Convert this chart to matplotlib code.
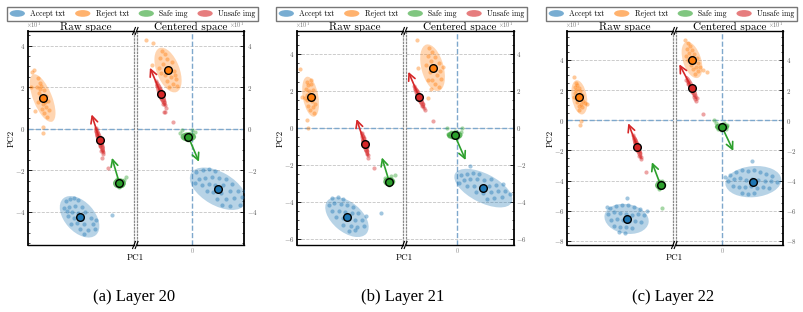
import matplotlib
matplotlib.use('Agg')
import matplotlib.pyplot as plt
import matplotlib.patches as mpatches
from matplotlib.legend_handler import HandlerPatch
from matplotlib.ticker import MultipleLocator, FixedLocator
from matplotlib.lines import Line2D

plt.rcParams['font.family'] = ['cmr10', 'DejaVu Serif']
plt.rcParams['mathtext.fontset'] = 'cm'
plt.rcParams['axes.formatter.use_mathtext'] = True

# ---------------- data (values in units of 10, as labelled) ----------------
CLASSES = ['Accept txt', 'Reject txt', 'Safe img', 'Unsafe img']
COLORS = ['#1f77b4', '#ff7f0e', '#2ca02c', '#d62728']
CAPTIONS = ['(a) Layer 20', '(b) Layer 21', '(c) Layer 22']

# ---- Layer 20 ----
raw20_accept = [(1.8,-3.5),(2.0,-3.4),(2.2,-3.35),(2.4,-3.45),(1.7,-3.8),(1.95,-3.75),(2.25,-3.7),(2.6,-3.75),
                (2.1,-4.0),(2.4,-4.05),(2.75,-4.0),(1.9,-4.2),(2.2,-4.3),(2.6,-4.35),(3.0,-4.3),(2.35,-4.55),
                (2.7,-4.6),(3.1,-4.6),(2.5,-4.85),(2.9,-4.9),(3.2,-4.85),(2.7,-5.05),(2.05,-4.6),(1.85,-3.95),
                (3.25,-4.4),(4.05,-4.16)]
raw20_reject = [(0.45,2.45),(0.55,2.2),(0.40,2.0),(0.62,2.05),(0.75,1.85),(0.50,1.7),(0.85,1.6),(0.60,1.45),
                (0.95,1.35),(0.70,1.2),(0.45,1.3),(0.85,1.05),(1.0,0.9),(0.75,0.75),(0.65,0.95),(0.90,0.55),
                (0.55,1.9),(0.80,1.3),(0.16,2.75),(0.27,2.85),(0.32,0.85),(0.69,0.10),(0.69,-0.19),(0.12,2.0)]
raw20_safe = [(4.25,-2.55),(4.30,-2.7),(4.45,-2.55),(4.50,-2.7),(4.35,-2.8),(4.42,-2.5),(4.55,-2.6),
              (4.28,-2.62),(4.40,-2.75),(4.60,-2.45),(4.71,-2.3),(4.25,-2.4)]
raw20_unsafe = [(3.25,0.05),(3.28,-0.1),(3.33,-0.2),(3.30,-0.3),(3.38,-0.35),(3.42,-0.45),(3.37,-0.6),
                (3.47,-0.65),(3.50,-0.75),(3.45,-0.85),(3.55,-0.9),(3.57,-1.0),(3.60,-1.1),(3.52,-1.05),
                (3.62,-1.2),(3.55,-1.43),(3.86,-1.91)]
cen20_accept = [(0.2,-2.1),(0.5,-2.0),(0.8,-1.95),(1.1,-2.05),(0.3,-2.4),(0.6,-2.35),(0.95,-2.3),(1.3,-2.35),
                (1.6,-2.4),(0.45,-2.7),(0.8,-2.65),(1.1,-2.7),(1.5,-2.7),(1.9,-2.65),(0.7,-3.0),(1.0,-3.05),
                (1.4,-3.1),(1.8,-3.0),(2.2,-3.0),(1.2,-3.4),(1.6,-3.4),(2.0,-3.35),(2.4,-3.3),(1.8,-3.7),
                (2.3,-3.65),(1.45,-3.65),(2.55,-3.0),(0.15,-2.6)]
cen20_reject = [(-1.45,3.75),(-1.3,3.6),(-1.55,3.4),(-1.2,3.35),(-1.0,3.2),(-1.4,3.1),(-1.6,2.95),(-1.15,2.9),
                (-0.9,2.8),(-1.3,2.6),(-1.05,2.5),(-0.8,2.4),(-1.2,2.3),(-0.95,2.15),(-0.75,2.05),(-1.1,2.0),
                (-1.5,2.7),(-0.85,2.6),(-2.23,4.27),(-1.88,4.12),(-1.95,3.05)]
cen20_safe = [(-0.35,-0.3),(-0.25,-0.45),(-0.1,-0.35),(-0.05,-0.45),(-0.3,-0.5),(-0.15,-0.25),(-0.4,-0.4),
              (0.0,-0.3),(-0.2,-0.55),(-0.5,-0.05),(0.0,-0.08),(-0.6,-0.2),(0.15,-0.15)]
cen20_unsafe = [(-1.75,2.3),(-1.7,2.1),(-1.62,1.95),(-1.55,1.85),(-1.6,1.75),(-1.45,1.6),(-1.5,1.5),(-1.4,1.4),
                (-1.35,1.3),(-1.42,1.2),(-1.3,1.15),(-1.28,1.0),(-1.38,0.8),(-1.30,0.8),(-0.93,0.34)]
means20_raw = [(2.47,-4.24),(0.69,1.48),(4.39,-2.63),(3.44,-0.54)]
means20_cen = [(1.24,-2.89),(-1.17,2.83),(-0.19,-0.39),(-1.51,1.69)]
ell20_raw = [(2.36,1.44,-48),(2.45,0.9,112),(0.62,0.5,0),(1.35,0.3,-72)]
ell20_cen = [(3.0,1.6,-30),(2.27,1.1,111),(0.75,0.45,0),(1.3,0.32,-70)]
tips20_raw = [(4.03,-1.40),(3.05,0.69)]   # safe, unsafe
tips20_cen = [(0.32,-1.59),(-2.04,2.94)]

# ---- Layer 21 ----
raw21_accept = [(1.9,-3.8),(2.2,-3.75),(2.5,-3.85),(1.7,-4.2),(2.0,-4.1),(2.35,-4.15),(2.7,-4.2),(3.0,-4.3),
                (1.9,-4.5),(2.25,-4.5),(2.6,-4.55),(2.95,-4.6),(3.3,-4.6),(2.1,-4.85),(2.45,-4.9),(2.8,-4.95),
                (3.15,-5.0),(3.5,-5.0),(2.5,-5.25),(2.9,-5.3),(3.25,-5.35),(3.6,-5.3),(2.8,-5.6),(3.1,-5.55),
                (3.7,-4.8),(4.51,-4.6)]
raw21_reject = [(0.5,2.5),(0.6,2.3),(0.75,2.35),(0.45,2.1),(0.65,2.0),(0.85,2.05),(0.5,1.8),(0.7,1.75),
                (0.9,1.65),(0.55,1.5),(0.8,1.45),(0.95,1.3),(0.6,1.2),(0.85,1.1),(0.7,0.95),(0.9,0.8),
                (0.75,2.6),(0.4,1.6),(0.14,3.18),(0.51,0.42),(0.6,0.0),(0.25,1.65)]
raw21_safe = [(4.85,-2.85),(4.9,-3.0),(5.05,-2.85),(5.1,-3.0),(4.95,-3.1),(5.0,-2.75),(4.82,-2.95),
              (5.15,-2.9),(5.29,-2.56),(5.05,-2.6),(4.75,-2.7)]
raw21_unsafe = [(3.5,-0.3),(3.55,-0.45),(3.6,-0.55),(3.58,-0.7),(3.67,-0.75),(3.7,-0.9),(3.63,-1.0),
                (3.75,-1.05),(3.72,-1.2),(3.8,-1.25),(3.78,-1.4),(3.85,-1.5),(3.83,-1.65),(4.17,-2.17)]
cen21_accept = [(0.2,-2.55),(0.5,-2.5),(0.85,-2.45),(1.2,-2.5),(0.35,-2.85),(0.7,-2.8),(1.05,-2.8),(1.45,-2.85),
                (1.8,-2.8),(0.5,-3.15),(0.9,-3.15),(1.3,-3.2),(1.7,-3.15),(2.1,-3.1),(2.45,-3.05),(1.0,-3.5),
                (1.4,-3.55),(1.8,-3.5),(2.2,-3.45),(2.6,-3.4),(1.6,-3.85),(2.0,-3.8),(2.4,-3.75),(2.85,-3.6),
                (0.69,-2.08),(0.1,-3.0)]
cen21_reject = [(-1.55,4.3),(-1.35,4.1),(-1.6,3.9),(-1.2,3.85),(-1.45,3.6),(-1.0,3.5),(-1.7,3.4),(-1.25,3.3),
                (-0.95,3.1),(-1.5,3.0),(-1.1,2.85),(-1.35,2.6),(-0.9,2.65),(-1.6,2.6),(-1.2,2.35),(-1.0,2.2),
                (-1.4,2.1),(-0.8,3.3),(-2.17,4.75),(-2.11,3.21),(-1.57,1.62)]
cen21_safe = [(-0.5,-0.35),(-0.35,-0.25),(-0.2,-0.5),(-0.05,-0.3),(0.1,-0.45),(0.2,-0.25),(-0.3,-0.5),
              (-0.45,-0.45),(0.0,-0.55),(-0.55,0.0),(0.25,0.0),(-0.1,-0.2)]
cen21_unsafe = [(-2.35,2.25),(-2.28,2.1),(-2.2,2.0),(-2.15,1.85),(-2.05,1.8),(-2.0,1.55),(-2.1,1.5),
                (-1.95,1.4),(-1.85,1.3),(-1.9,1.2),(-1.82,1.05),(-1.75,0.95),(-1.3,0.36)]
means21_raw = [(2.69,-4.84),(0.72,1.68),(4.98,-2.92),(3.65,-0.87)]
means21_cen = [(1.41,-3.27),(-1.34,3.25),(-0.14,-0.40),(-2.06,1.66)]
ell21_raw = [(2.76,1.6,-40),(2.2,0.84,100),(0.65,0.5,0),(1.4,0.3,-75)]
ell21_cen = [(3.44,1.56,-27),(2.6,1.2,105),(0.85,0.45,0),(1.4,0.32,-66)]
tips21_raw = [(4.58,-1.61),(3.21,0.47)]
tips21_cen = [(0.45,-1.75),(-2.65,3.03)]

# ---- Layer 22 ----
raw22_accept = [(2.8,-5.8),(3.2,-5.7),(3.6,-5.6),(4.0,-5.65),(4.4,-5.75),(4.8,-5.9),(2.7,-6.2),(3.1,-6.1),
                (3.5,-6.15),(3.9,-6.2),(4.3,-6.25),(4.7,-6.2),(5.1,-6.3),(2.9,-6.6),(3.3,-6.55),(3.7,-6.6),
                (4.1,-6.65),(4.5,-6.7),(4.9,-6.75),(3.1,-7.0),(3.5,-7.05),(3.9,-7.1),(4.3,-7.15),(3.4,-7.4),
                (3.8,-7.5),(5.3,-6.0),(3.93,-5.17),(2.61,-5.72)]
raw22_reject = [(0.55,2.5),(0.65,2.35),(0.5,2.2),(0.75,2.15),(0.6,2.0),(0.85,1.95),(0.5,1.8),(0.7,1.7),
                (0.95,1.65),(0.6,1.45),(0.85,1.4),(1.05,1.3),(0.65,1.2),(0.9,1.1),(0.75,0.95),(1.0,0.85),
                (0.8,0.7),(1.2,1.15),(1.3,1.05),(0.44,2.85),(0.88,-0.04),(0.84,-0.31),(0.45,1.55)]
raw22_safe = [(6.05,-4.2),(6.1,-4.4),(6.25,-4.2),(6.3,-4.4),(6.15,-4.5),(6.2,-4.1),(6.35,-4.3),(6.0,-4.35),
              (6.1,-4.0),(6.3,-4.0),(6.05,-4.55),(6.25,-5.79)]
raw22_unsafe = [(4.35,-1.0),(4.42,-1.15),(4.5,-1.3),(4.48,-1.45),(4.58,-1.5),(4.62,-1.65),(4.7,-1.8),
                (4.65,-1.95),(4.75,-2.05),(4.82,-2.2),(4.78,-2.35),(4.88,-2.45),(4.92,-2.6),(5.22,-3.45)]
cen22_accept = [(0.5,-3.6),(0.9,-3.4),(1.3,-3.3),(1.7,-3.35),(2.1,-3.3),(2.5,-3.4),(2.9,-3.55),(3.3,-3.7),
                (0.4,-4.0),(0.8,-3.9),(1.2,-3.85),(1.6,-3.95),(2.0,-3.9),(2.4,-3.95),(2.8,-4.0),(3.2,-4.05),
                (3.6,-4.1),(0.7,-4.35),(1.1,-4.4),(1.5,-4.45),(1.9,-4.35),(2.3,-4.5),(2.7,-4.45),(3.1,-4.5),
                (1.3,-4.8),(1.7,-4.9),(2.1,-4.85),(1.99,-2.7),(0.2,-3.75)]
cen22_reject = [(-2.3,5.1),(-2.15,4.9),(-2.35,4.7),(-2.0,4.65),(-2.2,4.45),(-1.85,4.4),(-2.4,4.25),(-2.05,4.2),
                (-1.7,4.15),(-2.25,4.0),(-1.9,3.85),(-1.6,3.8),(-2.1,3.65),(-1.75,3.55),(-1.45,3.5),(-1.95,3.4),
                (-1.6,3.25),(-1.8,3.1),(-1.3,3.35),(-1.04,3.23),(-2.47,5.33)]
cen22_safe = [(-0.35,-0.35),(-0.2,-0.5),(0.0,-0.3),(0.15,-0.45),(0.25,-0.55),(-0.3,-0.6),(-0.1,-0.65),
              (0.1,-0.2),(0.3,-0.3),(-0.55,0.05),(-0.45,-0.2)]
cen22_unsafe = [(-2.4,2.7),(-2.3,2.55),(-2.25,2.4),(-2.15,2.3),(-2.1,2.1),(-1.95,2.0),(-2.0,1.85),(-1.9,1.7),
                (-1.85,1.55),(-1.8,1.4),(-1.75,1.25),(-1.7,1.5),(-1.3,0.4)]
means22_raw = [(3.93,-6.54),(0.80,1.52),(6.19,-4.31),(4.64,-1.75)]
means22_cen = [(2.06,-4.07),(-2.01,4.00),(-0.02,-0.44),(-2.03,2.17)]
ell22_raw = [(2.96,1.96,-10),(2.3,1.0,100),(0.75,0.6,0),(1.7,0.38,-71)]
ell22_cen = [(3.72,2.06,5),(2.5,1.2,108),(0.95,0.5,0),(1.7,0.38,-65)]
tips22_raw = [(5.61,-2.78),(4.04,-0.20)]
tips22_cen = [(0.73,-2.03),(-2.85,3.71)]

YTICKS = [[-4, -2, 0, 2, 4], [-6, -4, -2, 0, 2, 4], [-8, -6, -4, -2, 0, 2, 4]]

panels = [
    dict(raw=[raw20_accept, raw20_reject, raw20_safe, raw20_unsafe],
         cen=[cen20_accept, cen20_reject, cen20_safe, cen20_unsafe],
         mraw=means20_raw, mcen=means20_cen, eraw=ell20_raw, ecen=ell20_cen,
         traw=tips20_raw, tcen=tips20_cen),
    dict(raw=[raw21_accept, raw21_reject, raw21_safe, raw21_unsafe],
         cen=[cen21_accept, cen21_reject, cen21_safe, cen21_unsafe],
         mraw=means21_raw, mcen=means21_cen, eraw=ell21_raw, ecen=ell21_cen,
         traw=tips21_raw, tcen=tips21_cen),
    dict(raw=[raw22_accept, raw22_reject, raw22_safe, raw22_unsafe],
         cen=[cen22_accept, cen22_reject, cen22_safe, cen22_unsafe],
         mraw=means22_raw, mcen=means22_cen, eraw=ell22_raw, ecen=ell22_cen,
         traw=tips22_raw, tcen=tips22_cen),
]

# ---------------- layout (pixels) ----------------
W, H = 804, 312
fig = plt.figure(figsize=(W / 100, H / 100), dpi=100)

def fx(px):
    return px / W

def fy(py):
    return 1 - py / H

OFFS = [0, 269, 539]
RAW_L, RAW_R, CEN_L, CEN_R = 28.3, 133.8, 136.8, 244.5
TOP, BOT = 31, 245
YLIMS = [(-5.60, 4.71), (-6.35, 5.24), (-8.27, 5.92)]
ZERO_PX = [192.3, 188.3, 183.3]

GRAY_TXT = '#555555'
BLUE_LINE = '#7ea8cc'
ELL_ALPHA = [0.32, 0.32, 0.65, 0.55]


def ellipse_handle(legend, orig_handle, xdescent, ydescent, width, height, fontsize):
    return mpatches.Ellipse(xy=(0.5 * width - xdescent, 0.5 * height - ydescent),
                            width=width, height=height * 1.15)


def draw_space(ax, pts, means, ells, tips):
    for i, c in enumerate(COLORS):
        w, h, a = ells[i]
        ax.add_patch(mpatches.Ellipse(means[i], w, h, angle=a, facecolor=c, alpha=ELL_ALPHA[i],
                                      lw=0, zorder=2))
        xs = [p[0] for p in pts[i]]
        ys = [p[1] for p in pts[i]]
        ax.scatter(xs, ys, s=9, color=c, alpha=0.42, lw=0, zorder=3)
    for j, ci in enumerate([2, 3]):
        ax.annotate('', xy=tips[j], xytext=means[ci],
                    arrowprops=dict(arrowstyle='->,head_length=0.5,head_width=0.25',
                                    color=COLORS[ci], lw=1.2, shrinkA=0, shrinkB=0,
                                    mutation_scale=10), zorder=5)
    for i, c in enumerate(COLORS):
        ax.plot([means[i][0]], [means[i][1]], 'o', ms=5.5, mfc=c, mec='k', mew=1.0, zorder=6)


for k, pan in enumerate(panels):
    off = OFFS[k]
    ymin, ymax = YLIMS[k]
    scale = (BOT - TOP) / (ymax - ymin)
    bottom = fy(BOT)
    height = (BOT - TOP) / H
    ax_r = fig.add_axes([fx(RAW_L + off), bottom, (RAW_R - RAW_L) / W, height])
    ax_c = fig.add_axes([fx(CEN_L + off), bottom, (CEN_R - CEN_L) / W, height])

    ax_r.set_xlim(0, (RAW_R - RAW_L) / scale)
    ax_c.set_xlim((CEN_L - ZERO_PX[k]) / scale, (CEN_R - ZERO_PX[k]) / scale)
    for ax in (ax_r, ax_c):
        ax.set_ylim(ymin, ymax)
        ax.yaxis.set_major_locator(FixedLocator(YTICKS[k]))
        ax.yaxis.set_minor_locator(MultipleLocator(0.5))
        ax.yaxis.grid(True, ls='--', color='#c4c4c4', lw=0.6)
        ax.set_axisbelow(True)
        ax.axhline(0, color=BLUE_LINE, ls='--', lw=1.0, zorder=1)
        ax.tick_params(axis='y', which='major', direction='in', length=3, width=0.6,
                       labelsize=5, labelcolor=GRAY_TXT, pad=2)
        ax.tick_params(axis='y', which='minor', direction='in', length=1.6, width=0.5)
        for s in ('top', 'bottom'):
            ax.spines[s].set_linewidth(1.0)

    ax_r.set_xticks([])
    ax_r.spines['right'].set_linestyle(':')
    ax_r.spines['right'].set_color('#888888')
    ax_r.spines['right'].set_linewidth(0.9)
    ax_r.spines['left'].set_linewidth(1.3)

    ax_c.yaxis.tick_right()
    ax_c.tick_params(axis='y', which='both', left=False, right=True, labelright=True, labelleft=False)
    ax_c.spines['left'].set_linestyle(':')
    ax_c.spines['left'].set_color('#888888')
    ax_c.spines['left'].set_linewidth(0.9)
    ax_c.spines['right'].set_linewidth(1.3)
    ax_c.set_xticks([0])
    ax_c.set_xticklabels(['0'])
    ax_c.tick_params(axis='x', length=0, labelsize=4.5, labelcolor='#888888', pad=2)
    ax_c.axvline(0, color=BLUE_LINE, ls='--', lw=1.0, zorder=1)

    draw_space(ax_r, pan['raw'], pan['mraw'], pan['eraw'], pan['traw'])
    draw_space(ax_c, pan['cen'], pan['mcen'], pan['ecen'], pan['tcen'])

    # break marks
    bx = (RAW_R + CEN_L) / 2 + off
    for by in (TOP, BOT):
        for d in (-1.3, 1.3):
            fig.add_artist(Line2D([fx(bx + d - 1.4), fx(bx + d + 1.4)], [fy(by + 3.5), fy(by - 3.5)],
                                  transform=fig.transFigure, color='k', lw=0.8))

    # titles and labels
    fig.text(fx(86 + off), fy(26.5), 'Raw space', ha='center', va='center', fontsize=8)
    fig.text(fx(191 + off), fy(26.5), 'Centered space', ha='center', va='center', fontsize=8)
    fig.text(fx(34 + off), fy(25.5), r'$\times10^{1}$', ha='center', va='center', fontsize=4.5,
             color='#777777')
    fig.text(fx(237 + off), fy(25.5), r'$\times10^{1}$', ha='center', va='center', fontsize=4.5,
             color='#777777')
    fig.text(fx(135 + off), fy(258), 'PC1', ha='center', va='center', fontsize=6.5)
    fig.text(fx(11 + off), fy(138), 'PC2', ha='center', va='center', fontsize=6.5, rotation=90)
    fig.text(fx(134 + off), fy(297), CAPTIONS[k], ha='center', va='center', fontsize=12,
             family='Liberation Serif')

    # legend
    handles = [mpatches.Ellipse((0, 0), 1, 1, facecolor=c, edgecolor='none', alpha=0.6) for c in COLORS]
    fig.legend(handles, CLASSES, loc='upper left', ncol=4, mode='expand',
               bbox_to_anchor=(fx(7 + off), fy(19.5), 251 / W, 12.5 / H),
               bbox_transform=fig.transFigure, borderaxespad=0, fontsize=5.5,
               handlelength=2.0, handleheight=0.8, handletextpad=0.7, borderpad=0.35,
               fancybox=False, edgecolor='#777777', framealpha=1,
               handler_map={mpatches.Ellipse: HandlerPatch(patch_func=ellipse_handle)})

fig.savefig('out.png', dpi=100)
